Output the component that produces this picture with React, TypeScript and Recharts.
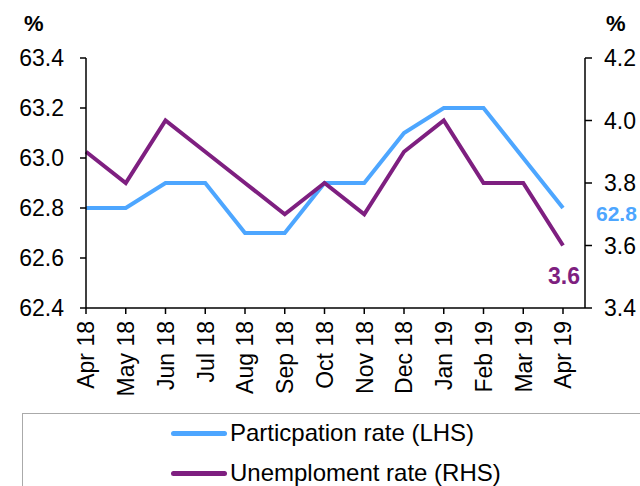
import { LabelList, Line, LineChart, XAxis, YAxis } from 'recharts'

const months = ['Apr 18', 'May 18', 'Jun 18', 'Jul 18', 'Aug 18', 'Sep 18', 'Oct 18', 'Nov 18', 'Dec 18', 'Jan 19', 'Feb 19', 'Mar 19', 'Apr 19']
const participation = [62.8, 62.8, 62.9, 62.9, 62.7, 62.7, 62.9, 62.9, 63.1, 63.2, 63.2, 63.0, 62.8]
const unemployment = [3.9, 3.8, 4.0, 3.9, 3.8, 3.7, 3.8, 3.7, 3.9, 4.0, 3.8, 3.8, 3.6]
const leftTicks = [62.4, 62.6, 62.8, 63.0, 63.2, 63.4]
const rightTicks = [3.4, 3.6, 3.8, 4.0, 4.2]

const BLUE = '#4da6ff'
const PURPLE = '#7e1f80'
const FONT = 'Liberation Sans, Arial, sans-serif'

const data = months.map((month, i) => ({ month, participation: participation[i], unemployment: unemployment[i] }))
const last = months.length - 1

function MonthTick({ x, y, payload }: any) {
  return (
    <g transform={`translate(${x},${y + 5})`}>
      <text transform="rotate(-90)" textAnchor="end" dy="0.36em" fontSize={23} fill="#000" fontFamily={FONT}>
        {payload.value}
      </text>
    </g>
  )
}

function EndLabel({ x, y, index, value, dx, dy, color, anchor, size }: any) {
  if (index !== last) return null
  return (
    <text x={x + dx} y={y + dy} textAnchor={anchor} dominantBaseline="central" fontSize={size} fontWeight="bold" fill={color} fontFamily={FONT}>
      {Number(value).toFixed(1)}
    </text>
  )
}

export default function App() {
  return (
    <div style={{ position: 'absolute', left: 0, top: 0, width: 640, height: 486, overflow: 'hidden', background: '#fff', fontFamily: FONT }}>
      <div style={{ position: 'absolute', left: 24, top: 11, fontSize: 22, fontWeight: 'bold' }}>%</div>
      <div style={{ position: 'absolute', left: 606, top: 11, fontSize: 22, fontWeight: 'bold' }}>%</div>
      <LineChart width={640} height={486} data={data} margin={{ top: 58, right: 10, bottom: 88, left: 0 }}>
        <XAxis
          dataKey="month"
          height={90}
          interval={0}
          tick={<MonthTick />}
          tickSize={6}
          stroke="#000"
          strokeWidth={1.5}
          padding={{ left: 0, right: 22 }}
        />
        <YAxis
          yAxisId="left"
          orientation="left"
          width={86}
          domain={[62.4, 63.4]}
          ticks={leftTicks}
          tickFormatter={(v) => v.toFixed(1)}
          tick={{ fontSize: 23, fill: '#000', fontFamily: FONT }}
          tickSize={6}
          tickMargin={16}
          stroke="#000"
          strokeWidth={1.5}
        />
        <YAxis
          yAxisId="right"
          orientation="right"
          width={45}
          domain={[3.4, 4.2]}
          ticks={rightTicks}
          tickFormatter={(v) => v.toFixed(1)}
          tick={{ fontSize: 23, fill: '#000', fontFamily: FONT }}
          tickSize={7}
          tickMargin={12}
          stroke="#000"
          strokeWidth={1.5}
        />
        <Line yAxisId="left" dataKey="participation" stroke={BLUE} strokeWidth={4} dot={false} isAnimationActive={false}>
          <LabelList dataKey="participation" content={<EndLabel dx={33} dy={5} color={BLUE} anchor="start" size={21} />} />
        </Line>
        <Line yAxisId="right" dataKey="unemployment" stroke={PURPLE} strokeWidth={4} dot={false} isAnimationActive={false}>
          <LabelList dataKey="unemployment" content={<EndLabel dx={1} dy={30} color={PURPLE} anchor="middle" size={23} />} />
        </Line>
      </LineChart>
      <div style={{ position: 'absolute', left: 22, top: 413, width: 640, height: 100, border: '1.5px solid #aaa', boxSizing: 'border-box' }} />
      <div style={{ position: 'absolute', left: 171, top: 413, fontSize: 24, lineHeight: '40px' }}>
        <div style={{ display: 'flex', alignItems: 'center' }}>
          <span style={{ display: 'inline-block', width: 56, height: 5, borderRadius: 3, background: BLUE, marginRight: 3 }} />
          Particpation rate (LHS)
        </div>
        <div style={{ display: 'flex', alignItems: 'center' }}>
          <span style={{ display: 'inline-block', width: 56, height: 5, borderRadius: 3, background: PURPLE, marginRight: 3 }} />
          Unemploment rate (RHS)
        </div>
      </div>
    </div>
  )
}
